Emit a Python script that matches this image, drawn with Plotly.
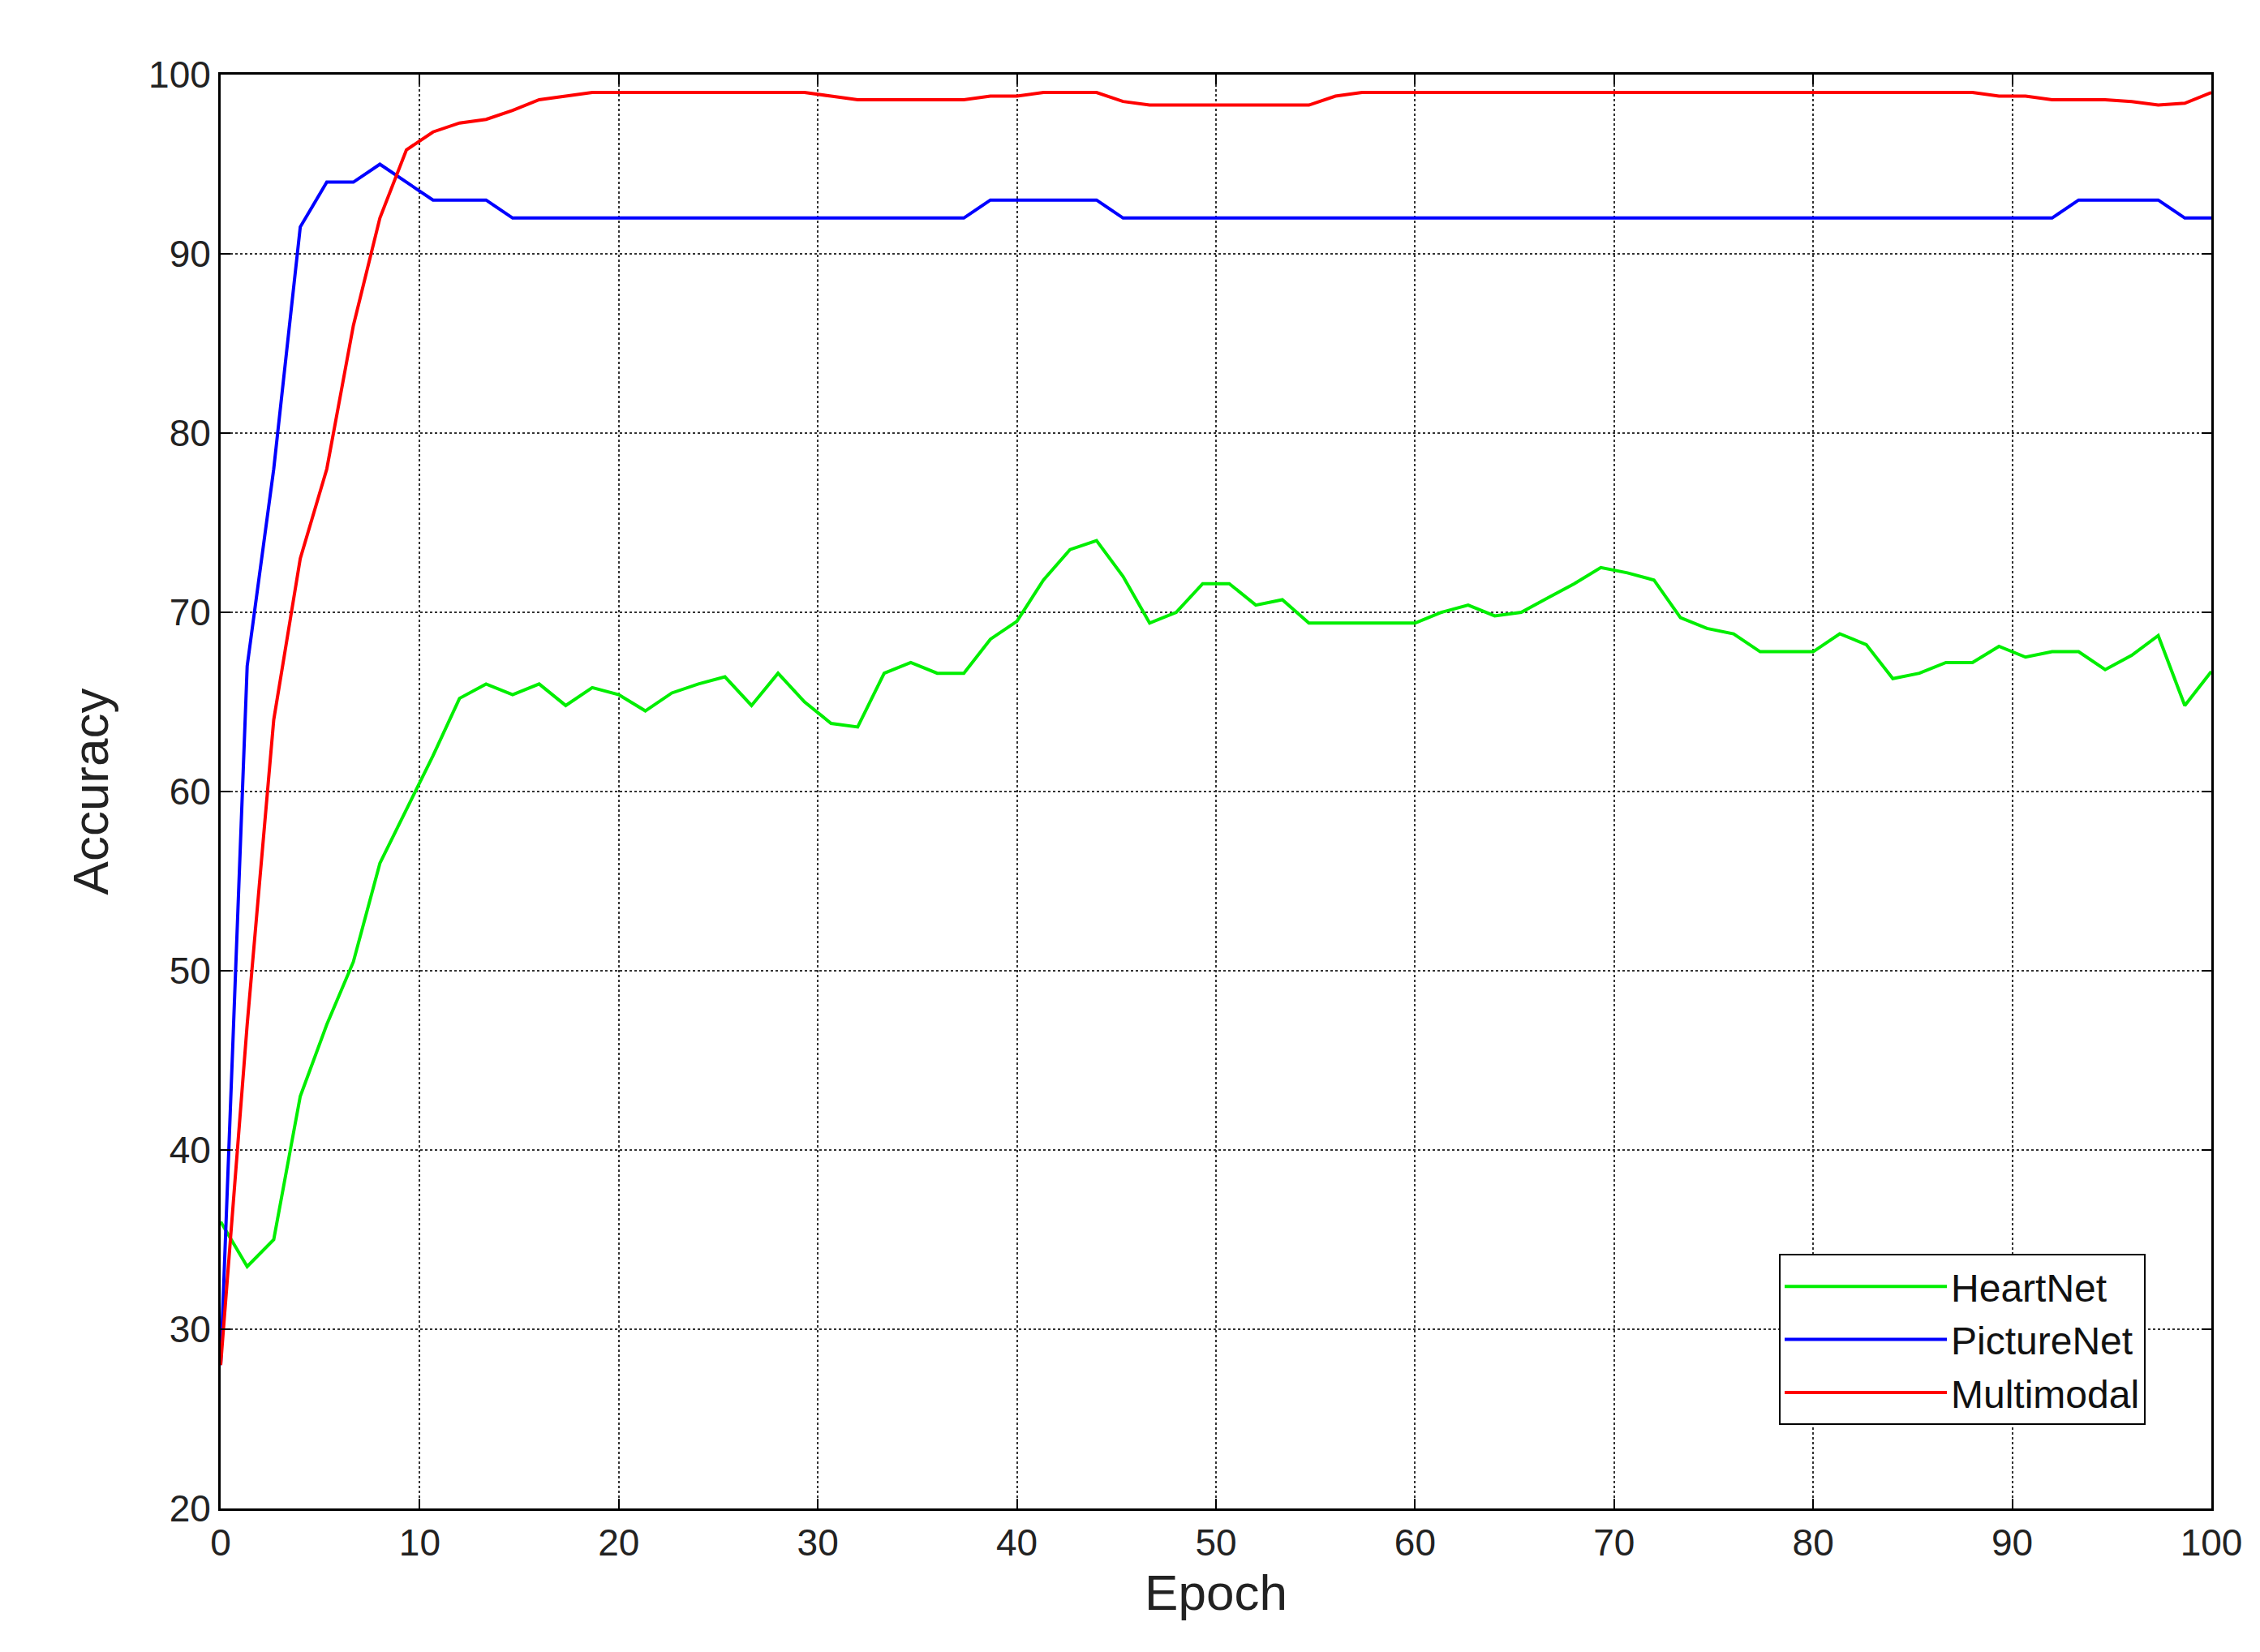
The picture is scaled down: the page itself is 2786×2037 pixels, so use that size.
import plotly.graph_objects as go

step = 100/75
epochs = [round(i*step, 3) for i in range(76)]
heartnet = [36,33.5,35,43,47,50.5,56,59,62,65.2,66,65.4,66,64.8,65.8,65.4,64.5,65.5,66,66.4,
            64.8,66.6,65,63.8,63.6,66.6,67.2,66.6,66.6,68.5,69.5,71.8,73.5,74,72,69.4,70,71.6,71.6,70.4,
            70.7,69.4,69.4,69.4,69.4,69.4,70,70.4,69.8,70,70.8,71.6,72.5,72.2,71.8,69.7,69.1,68.8,67.8,67.8,
            67.8,68.8,68.2,66.3,66.6,67.2,67.2,68.1,67.5,67.8,67.8,66.8,67.6,68.7,64.8,66.7]
picturenet = [28,67,78,91.5,94,94,95,94,93,93,93] + [92]*18 + [93]*5 + [92]*36 + [93]*4 + [92,92]
multimodal = [28,47,64,73,78,86,92,95.8,96.8,97.3,97.5,98,98.6,98.8] + [99]*9 + [98.8] + [98.6]*5 + \
             [98.8,98.8,99,99,99,98.5] + [98.3]*7 + [98.8] + [99]*24 + [98.8,98.8,98.6,98.6,98.6,98.5,98.3,98.4,99]
xticks = list(range(0, 101, 10))
yticks = list(range(20, 101, 10))

fig = go.Figure()
for name, ys, col in [("HeartNet", heartnet, "#00ee00"), ("PictureNet", picturenet, "#0000ff"), ("Multimodal", multimodal, "#ff0000")]:
    fig.add_trace(go.Scatter(x=epochs, y=ys, mode="lines", name=name, line=dict(color=col, width=4)))

ax = dict(showline=True, linecolor="black", linewidth=3, mirror="allticks", ticks="inside", ticklen=12,
          tickwidth=2, tickcolor="black", showgrid=True, gridcolor="#333333", griddash="dot", gridwidth=2,
          zeroline=False, tickfont=dict(size=46, color="#222"))
fig.update_layout(
    width=2786, height=2037, paper_bgcolor="white", plot_bgcolor="white",
    font=dict(family="Liberation Sans, Arial", color="#222"),
    margin=dict(l=264, r=68, t=84, b=185),
    xaxis=dict(ax, range=[0, 100], tickvals=xticks, title=dict(text="Epoch", font=dict(size=62), standoff=15)),
    yaxis=dict(ax, range=[20, 100], tickvals=yticks, title=dict(text="Accuracy", font=dict(size=62), standoff=30)),
    legend=dict(x=0.967, y=0.058, xanchor="right", yanchor="bottom", bgcolor="white", bordercolor="black",
                borderwidth=2, font=dict(size=48, color="#111"), itemwidth=200, tracegroupgap=0),
)
fig.write_html("out.html")
